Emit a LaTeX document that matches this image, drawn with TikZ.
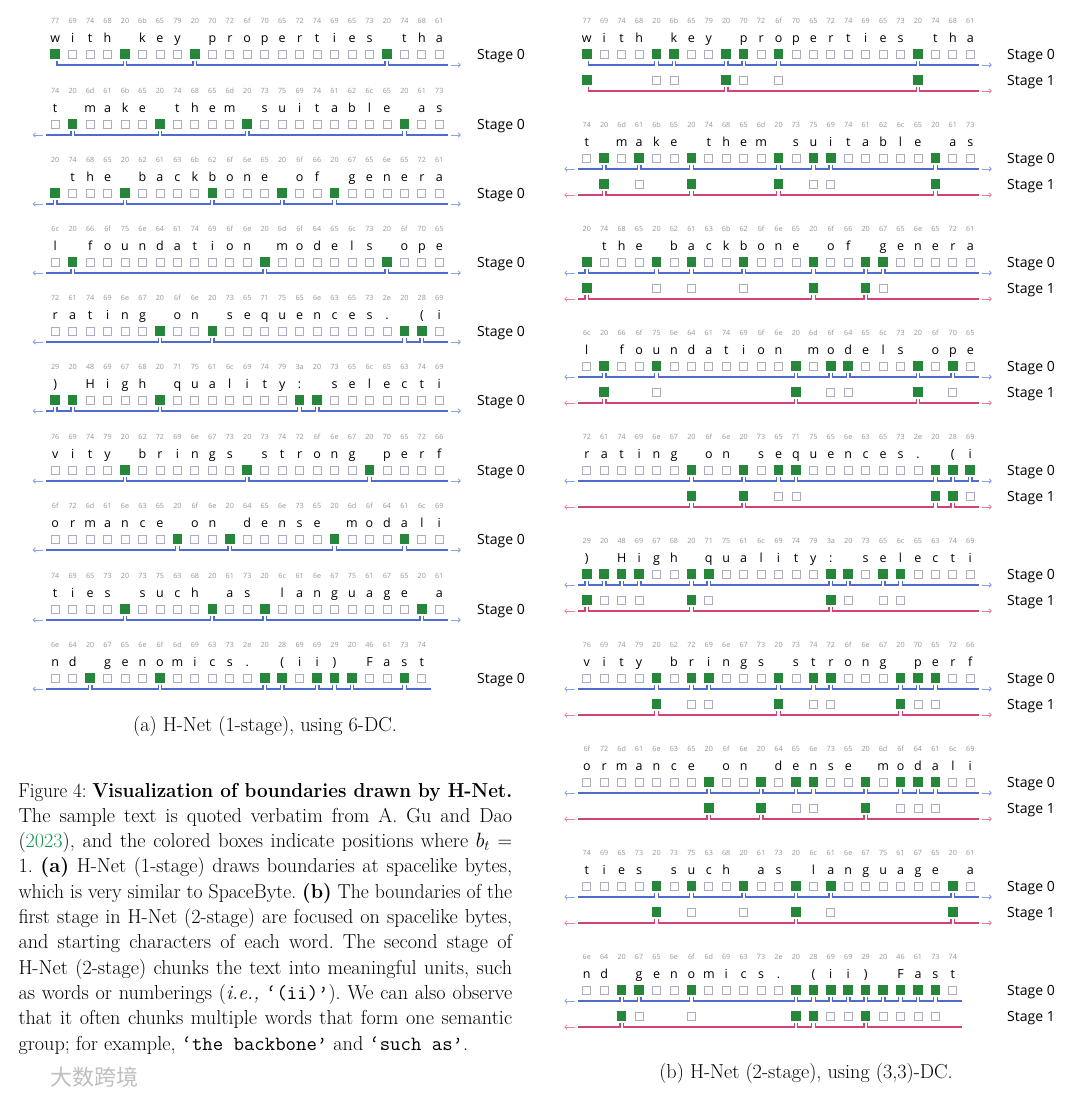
\documentclass[tikz,border=0pt]{standalone}
\usepackage{fontspec}
\usepackage{graphicx}
\usetikzlibrary{calc,arrows.meta}
\newfontfamily\osans{Open Sans}
\newfontfamily\cjkfont{Noto Sans CJK SC}
\definecolor{bgreen}{RGB}{38,135,58}
\definecolor{eboxc}{RGB}{172,172,192}
\definecolor{bline}{RGB}{78,108,205}
\definecolor{barrow}{RGB}{140,162,228}
\definecolor{pline}{RGB}{210,66,118}
\definecolor{parrow}{RGB}{228,130,165}
\definecolor{hexgray}{RGB}{150,150,150}
\definecolor{citegreen}{RGB}{20,150,80}
\frenchspacing

\tikzset{
  hexlbl/.style={anchor=base, inner sep=0pt, text=hexgray, font=\osans\fontsize{7.2}{8}\selectfont},
  chlbl/.style={anchor=base, inner sep=0pt, font=\osans\fontsize{12.5}{14}\selectfont},
  ebox/.style={draw=eboxc, line width=0.8pt, minimum size=8pt, inner sep=0pt, fill=white},
  gbox/.style={fill=bgreen, minimum size=9.6pt, inner sep=0pt},
  stagelbl/.style={anchor=base west, inner sep=0pt, font=\osans\fontsize{14}{16}\selectfont},
  blueseg/.style={draw=bline, line width=1.3pt},
  pinkseg/.style={draw=pline, line width=1.3pt},
  bluearr/.style={draw=barrow, line width=0.8pt, -{Straight Barb[length=2.2pt,width=4.5pt]}},
  pinkarr/.style={draw=parrow, line width=0.8pt, -{Straight Barb[length=2.2pt,width=4.5pt]}},
  capt/.style={anchor=base, inner sep=0pt, font=\fontsize{20.2}{24}\selectfont},
  para/.style={anchor=base west, inner sep=0pt, font=\fontsize{20.2}{24}\selectfont\frenchspacing},
}
\newsavebox{\jbox}
\newcommand{\jline}[1]{\sbox{\jbox}{#1}\ifdim\wd\jbox>493.7pt\relax\resizebox{493.7pt}{\height}{\usebox{\jbox}}\else\makebox[493.7pt][s]{#1}\fi}

\def\HexA{77,69,74,68,20,6b,65,79,20,70,72,6f,70,65,72,74,69,65,73,20,74,68,61}
\def\HexB{74,20,6d,61,6b,65,20,74,68,65,6d,20,73,75,69,74,61,62,6c,65,20,61,73}
\def\HexC{20,74,68,65,20,62,61,63,6b,62,6f,6e,65,20,6f,66,20,67,65,6e,65,72,61}
\def\HexD{6c,20,66,6f,75,6e,64,61,74,69,6f,6e,20,6d,6f,64,65,6c,73,20,6f,70,65}
\def\HexE{72,61,74,69,6e,67,20,6f,6e,20,73,65,71,75,65,6e,63,65,73,2e,20,28,69}
\def\HexF{29,20,48,69,67,68,20,71,75,61,6c,69,74,79,3a,20,73,65,6c,65,63,74,69}
\def\HexG{76,69,74,79,20,62,72,69,6e,67,73,20,73,74,72,6f,6e,67,20,70,65,72,66}
\def\HexH{6f,72,6d,61,6e,63,65,20,6f,6e,20,64,65,6e,73,65,20,6d,6f,64,61,6c,69}
\def\HexI{74,69,65,73,20,73,75,63,68,20,61,73,20,6c,61,6e,67,75,61,67,65,20,61}
\def\HexJ{6e,64,20,67,65,6e,6f,6d,69,63,73,2e,20,28,69,69,29,20,46,61,73,74}

\def\ChA{w,i,t,h,{},k,e,y,{},p,r,o,p,e,r,t,i,e,s,{},t,h,a}
\def\ChB{t,{},m,a,k,e,{},t,h,e,m,{},s,u,i,t,a,b,l,e,{},a,s}
\def\ChC{{},t,h,e,{},b,a,c,k,b,o,n,e,{},o,f,{},g,e,n,e,r,a}
\def\ChD{l,{},f,o,u,n,d,a,t,i,o,n,{},m,o,d,e,l,s,{},o,p,e}
\def\ChE{r,a,t,i,n,g,{},o,n,{},s,e,q,u,e,n,c,e,s,{.},{},{(},i}
\def\ChF{{)},{},H,i,g,h,{},q,u,a,l,i,t,y,{:},{},s,e,l,e,c,t,i}
\def\ChG{v,i,t,y,{},b,r,i,n,g,s,{},s,t,r,o,n,g,{},p,e,r,f}
\def\ChH{o,r,m,a,n,c,e,{},o,n,{},d,e,n,s,e,{},m,o,d,a,l,i}
\def\ChI{t,i,e,s,{},s,u,c,h,{},a,s,{},l,a,n,g,u,a,g,e,{},a}
\def\ChJ{n,d,{},g,e,n,o,m,i,c,s,{.},{},{(},i,i,{)},{},F,a,s,t}

% #1 prefix, #2 x0, #3 pitch, #4 y of boxes, #5 hex macro, #6 chars macro
\newcommand{\textrow}[6]{%
  \foreach \hx [count=\idx from 0] in #5 {\node[hexlbl] (#1h\idx) at ({#2+\idx*#3},{#4-31}) {\hx};}%
  \foreach \ch [count=\idx from 0] in #6 {\node[chlbl] (#1c\idx) at ({#2+\idx*#3},{#4-12}) {\ch};}%
}
% #1 prefix, #2 x0, #3 pitch, #4 y, #5 last index, #6 boundaries
\newcommand{\boxrow}[6]{%
  \foreach \idx in {0,...,#5} {\node[ebox] (#1\idx) at ({#2+\idx*#3},#4) {};}%
  \foreach \g in {#6} {\node[gbox] (#1g\g) at (#1\g.center) {};}%
}
% #1 prefix, #2 reference prefix, #3 y offset, #4 stage-0 list, #5 stage-1 list
\newcommand{\stageonerow}[5]{%
  \foreach \idx in {#4} {\node[ebox] (#1\idx) at ($(#2\idx.center)+(0,#3)$) {};}%
  \foreach \g in {#5} {\node[gbox] (#1g\g) at (#1\g.center) {};}%
}
% #1 ref prefix, #2 seg style, #3 arrow style, #4 y offset, #5 boundaries, #6 isfirst, #7 islast, #8 last index
\newcommand{\bracketline}[8]{%
  \foreach \bnd [count=\k] in {#5} {%
    \ifnum\k=1\relax
      \ifnum#6=0\relax
        \draw[#2] ($(#10.center)+(-9,#4)$) -- ($(#1\bnd.center)+(-1.8,#4)$) -- ++(0,-4.5);
      \fi
    \else
      \draw[#2] ($(#1\prevb.center)+(1.8,#4-4.5)$) -- ($(#1\prevb.center)+(1.8,#4)$) -- ($(#1\bnd.center)+(-1.8,#4)$) -- ++(0,-4.5);
    \fi
    \xdef\prevb{\bnd}%
  }%
  \draw[#2] ($(#1\prevb.center)+(1.8,#4-4.5)$) -- ($(#1\prevb.center)+(1.8,#4)$) -- ($(#1#8.center)+(9,#4)$);
  \ifnum#6=0\relax \draw[#3] ($(#10.center)+(-12,#4)$) -- ($(#10.center)+(-22.5,#4)$); \fi
  \ifnum#7=0\relax \draw[#3] ($(#1#8.center)+(11.5,#4)$) -- ($(#1#8.center)+(21.5,#4)$); \fi
}
% #1 id, #2 y, #3 hex, #4 chars, #5 last idx, #6 greens, #7 isfirst, #8 islast
\newcommand{\onestagerow}[8]{%
  \textrow{A#1}{55.2}{17.46}{#2}{#3}{#4}%
  \boxrow{A#1-}{55.2}{17.46}{#2}{#5}{#6}%
  \bracketline{A#1-}{blueseg}{bluearr}{11}{#6}{#7}{#8}{#5}%
  \node[stagelbl] (A#1s0) at (477,#2+5.5) {Stage 0};%
}
% #1 id, #2 y, #3 hex, #4 chars, #5 last idx, #6 s0, #7 s1, #8 isfirst, #9 islast
\newcommand{\twostagerow}[9]{%
  \textrow{B#1}{586.8}{17.43}{#2}{#3}{#4}%
  \boxrow{B#1-}{586.8}{17.43}{#2}{#5}{#6}%
  \stageonerow{B#1t-}{B#1-}{26}{#6}{#7}%
  \bracketline{B#1-}{blueseg}{bluearr}{11}{#6}{#8}{#9}{#5}%
  \bracketline{B#1-}{pinkseg}{pinkarr}{37}{#7}{#8}{#9}{#5}%
  \node[stagelbl] (B#1s0) at (1007,#2+5.5) {Stage 0};%
  \node[stagelbl] (B#1s1) at (1007,#2+31.5) {Stage 1};%
}

\begin{document}
\begin{tikzpicture}[x=1pt,y=-1pt]
\fill[white] (0,0) rectangle (1080,1096);
\path[use as bounding box] (0,0) rectangle (1080,1096);

% ---- (a) one stage
\onestagerow{1}{54}{\HexA}{\ChA}{22}{0,4,8,19}{1}{0}
\onestagerow{2}{124}{\HexB}{\ChB}{22}{1,6,11,20}{0}{0}
\onestagerow{3}{193}{\HexC}{\ChC}{22}{0,4,9,13,16}{0}{0}
\onestagerow{4}{262}{\HexD}{\ChD}{22}{1,12,19}{0}{0}
\onestagerow{5}{331}{\HexE}{\ChE}{22}{6,9,20,21}{0}{0}
\onestagerow{6}{400}{\HexF}{\ChF}{22}{0,1,6,14,15}{0}{0}
\onestagerow{7}{470}{\HexG}{\ChG}{22}{4,11,18}{0}{0}
\onestagerow{8}{539}{\HexH}{\ChH}{22}{7,10,16,20}{0}{0}
\onestagerow{9}{609}{\HexI}{\ChI}{22}{4,9,12,21}{0}{0}
\onestagerow{10}{678}{\HexJ}{\ChJ}{21}{2,6,12,13,15,16,17,20}{0}{1}

% ---- (b) two stages
\twostagerow{1}{54}{\HexA}{\ChA}{22}{0,4,5,8,9,11,19}{0,8,19}{1}{0}
\twostagerow{2}{158}{\HexB}{\ChB}{22}{1,3,6,11,13,14,20}{1,6,11,20}{0}{0}
\twostagerow{3}{262}{\HexC}{\ChC}{22}{0,4,6,9,13,16,17}{0,13,16}{0}{0}
\twostagerow{4}{366}{\HexD}{\ChD}{22}{1,4,12,14,15,19,21}{1,12,19}{0}{0}
\twostagerow{5}{470}{\HexE}{\ChE}{22}{6,9,11,12,20,21,22}{6,9,20,21}{0}{0}
\twostagerow{6}{574}{\HexF}{\ChF}{22}{0,1,2,3,6,7,14,15,17,18}{0,6,14}{0}{0}
\twostagerow{7}{678}{\HexG}{\ChG}{22}{4,6,7,11,13,14,18,19,20}{4,11,18}{0}{0}
\twostagerow{8}{782}{\HexH}{\ChH}{22}{7,10,12,13,16,18,19,20}{7,10,16}{0}{0}
\twostagerow{9}{886}{\HexI}{\ChI}{22}{4,6,9,12,14,21}{4,12,21}{0}{0}
\twostagerow{10}{990}{\HexJ}{\ChJ}{21}{2,3,6,12,13,14,15,16,17,18,19,20}{2,12,13,16}{0}{1}

% ---- captions
\node[capt] (capa) at (265,731) {(a) H-Net (1-stage), using 6-DC.};
\node[capt] (capb) at (806,1078) {(b) H-Net (2-stage), using (3,3)-DC.};

\node[para] (p1) at (18.3,797.0) {\jline{Figure 4: \textbf{Visualization of boundaries drawn by H-Net.}}};
\node[para] (p2) at (18.3,822.3) {\jline{The sample text is quoted verbatim from A. Gu and Dao}};
\node[para] (p3) at (18.3,847.6) {\jline{(\textcolor{citegreen}{2023}), and the colored boxes indicate positions where $b_t$ =}};
\node[para] (p4) at (18.3,872.9) {\jline{1. \textbf{(a)} H-Net (1-stage) draws boundaries at spacelike bytes,}};
\node[para] (p5) at (18.3,898.2) {\jline{which is very similar to SpaceByte. \textbf{(b)} The boundaries of the}};
\node[para] (p6) at (18.3,923.5) {\jline{first stage in H-Net (2-stage) are focused on spacelike bytes,}};
\node[para] (p7) at (18.3,948.8) {\jline{and starting characters of each word. The second stage of}};
\node[para] (p8) at (18.3,974.1) {\jline{H-Net (2-stage) chunks the text into meaningful units, such}};
\node[para] (p9) at (18.3,999.4) {\jline{as words or numberings (\textit{i.e.,} \texttt{‘(ii)’}). We can also observe}};
\node[para] (p10) at (18.3,1024.7) {\jline{that it often chunks multiple words that form one semantic}};
\node[para] (p11) at (18.3,1050.0) {group; for example, \texttt{‘the backbone’} and \texttt{‘such as’}.};

% ---- watermark
\node[anchor=base west, inner sep=0pt, text=black!25, font=\cjkfont\fontsize{22}{24}\selectfont] (wm) at (50,1085) {大数跨境};
\end{tikzpicture}
\end{document}
